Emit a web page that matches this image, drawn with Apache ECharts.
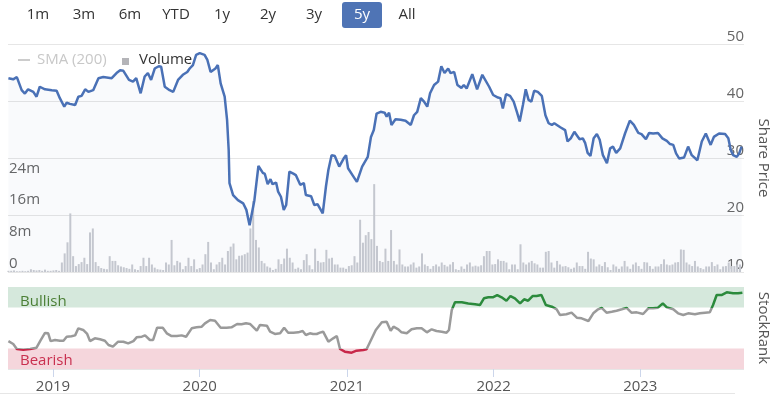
<!DOCTYPE html>
<html>
<head>
<meta charset="utf-8">
<script src="https://cdn.jsdelivr.net/npm/echarts@6/dist/echarts.min.js"></script>
<style>
html,body{margin:0;padding:0;background:#fff;}
#chart{width:771px;height:394px;}
</style>
</head>
<body>
<div id="chart"></div>
<script>
// ---------------- DATA ----------------
const rangeButtons = ['1m','3m','6m','YTD','1y','2y','3y','5y','All'];
const activeRange = '5y';

const priceDates = [
'2018-09-12','2018-09-24','2018-10-03','2018-10-15','2018-10-23','2018-10-31','2018-11-13','2018-11-21','2018-11-29','2018-12-12','2018-12-29',
'2019-01-10','2019-01-18','2019-01-29','2019-02-04','2019-02-12','2019-02-25','2019-03-05','2019-03-13','2019-03-22','2019-03-30','2019-04-11','2019-04-24',
'2019-05-06','2019-05-27','2019-06-08','2019-06-17','2019-06-25','2019-07-09','2019-07-19','2019-07-27','2019-08-07','2019-08-17','2019-08-25',
'2019-09-02','2019-09-11','2019-09-21','2019-09-27','2019-10-06','2019-10-18','2019-10-27','2019-11-08','2019-11-20','2019-12-01','2019-12-07','2019-12-15','2019-12-23',
'2020-01-01','2020-01-13','2020-01-20','2020-01-28','2020-02-09','2020-02-15','2020-02-22','2020-03-03','2020-03-09','2020-03-13','2020-03-15','2020-03-24',
'2020-04-05','2020-04-18','2020-04-26','2020-05-04','2020-05-16','2020-05-26','2020-06-06','2020-06-11','2020-06-18','2020-06-25','2020-06-30',
'2020-07-09','2020-07-14','2020-07-21','2020-07-28','2020-08-03','2020-08-11','2020-08-22','2020-08-27','2020-09-07','2020-09-16','2020-09-21',
'2020-10-04','2020-10-12','2020-10-20','2020-11-02','2020-11-10','2020-11-16','2020-11-24','2020-12-02','2020-12-13','2020-12-24','2020-12-30',
'2021-01-04','2021-01-15','2021-01-26','2021-02-08','2021-02-22','2021-03-02','2021-03-09','2021-03-16','2021-03-26','2021-04-05','2021-04-10','2021-04-16','2021-04-22',
'2021-05-02','2021-05-15','2021-05-27','2021-06-09','2021-06-17','2021-06-25','2021-07-04','2021-07-12','2021-07-20','2021-07-27','2021-08-06','2021-08-16','2021-08-24',
'2021-09-01','2021-09-10','2021-09-16','2021-09-25','2021-10-03','2021-10-13','2021-10-19','2021-10-26','2021-11-09','2021-11-21','2021-12-04','2021-12-21','2021-12-31',
'2022-01-12','2022-01-18','2022-01-24','2022-02-01','2022-02-11','2022-02-20','2022-02-28','2022-03-07','2022-03-15','2022-03-22','2022-03-29',
'2022-04-05','2022-04-12','2022-04-21','2022-05-01','2022-05-10','2022-05-18','2022-05-26','2022-06-01','2022-06-16','2022-06-28',
'2022-07-04','2022-07-12','2022-07-21','2022-07-27','2022-08-03','2022-08-11','2022-08-17','2022-08-23','2022-08-30','2022-09-07','2022-09-15','2022-09-22','2022-09-30',
'2022-10-10','2022-10-18','2022-10-25','2022-11-02','2022-11-12','2022-11-24','2022-12-06','2022-12-16','2022-12-27',
'2023-01-04','2023-01-15','2023-01-23','2023-02-02','2023-02-14','2023-02-25','2023-03-08','2023-03-16','2023-03-24','2023-03-31',
'2023-04-08','2023-04-20','2023-04-30','2023-05-09','2023-05-23','2023-06-03','2023-06-13','2023-06-25','2023-07-03','2023-07-16','2023-07-31',
'2023-08-08','2023-08-14','2023-08-20','2023-08-29','2023-09-04','2023-09-10'
];
const priceValues = [
44.0,43.8,44.2,41.9,41.3,42.05,41.6,40.75,42.5,42.05,41.9,
41.8,40.5,39.0,39.7,39.5,39.3,40.75,40.9,42.05,41.6,41.9,44.0,
44.2,44.0,44.9,45.4,45.3,43.7,43.4,44.0,41.35,44.3,44.9,
43.7,45.7,46.1,46.0,42.5,41.9,41.6,43.7,44.6,45.1,45.7,46.3,48.1,
48.4,48.1,47.2,45.1,45.7,46.3,43.1,40.75,36.7,31.4,25.6,23.5,
22.6,22.05,20.9,18.2,22.6,28.6,27.4,27.2,25.4,26.3,25.4,
25.7,24.1,23.2,20.9,21.75,27.6,27.2,27.0,25.3,25.6,23.5,
23.3,21.75,21.9,20.3,25.0,27.9,30.5,30.35,28.5,29.9,30.5,
28.2,27.0,25.8,28.5,30.2,33.7,34.9,37.8,38.1,37.95,37.25,37.95,35.8,
36.8,36.7,36.55,35.8,37.5,38.1,40.5,39.9,39.0,41.35,42.8,43.4,46.1,
44.9,45.7,44.9,45.1,42.8,42.3,42.8,42.2,44.7,42.05,44.6,42.5,41.05,
40.6,40.5,38.7,41.2,40.9,39.9,38.1,36.4,39.3,42.05,40.2,
39.9,41.8,41.6,40.9,37.5,36.1,35.8,36.1,35.4,34.9,
32.9,33.45,34.6,34.0,33.3,33.45,32.6,30.9,30.35,33.45,34.2,33.2,30.5,
29.1,31.7,32.0,30.9,31.7,34.3,36.55,35.8,34.4,
34.2,33.3,34.4,34.3,34.4,33.45,33.0,32.45,32.3,30.8,
29.9,30.1,32.0,30.5,29.6,32.9,34.3,32.3,33.7,34.3,34.2,
33.45,31.4,30.5,30.2,30.8,32.0
];

// Weekly volume (millions of shares), first week starting 2018-09-12
const volumeStart = '2018-09-12';
const volumeValues = [
0.3,0.3,0.4,0.2,0.2,0.3,0.2,0.3,0.7,0.5,0.4,0.5,0.3,0.6,0.3,0.3,0.4,0.5,0.3,2.4,
4.7,7.5,14.8,4.0,1.5,2.0,2.5,3.6,2.0,10.0,11.0,2.5,1.5,1.0,0.8,0.7,4.0,2.8,2.8,1.7,
1.4,1.2,1.0,0.8,1.9,0.7,0.5,1.5,3.6,1.5,3.6,1.9,1.1,0.7,0.6,0.5,2.4,1.9,8.1,1.7,
2.8,2.4,0.7,1.5,3.6,1.5,3.2,0.7,1.0,1.9,4.5,7.6,2.4,0.7,1.9,2.5,3.6,1.9,5.3,6.4,
7.2,3.2,4.1,4.2,4.5,4.9,11.0,18.0,8.1,6.2,2.8,2.2,1.4,1.1,0.5,0.8,3.2,2.0,3.4,5.9,
3.6,2.4,0.8,1.1,0.7,3.0,4.5,1.7,0.7,5.9,2.8,2.4,2.5,5.6,3.4,3.6,1.9,1.9,1.1,1.1,
0.8,1.5,1.7,4.0,2.4,13.2,7.4,9.3,10.1,8.3,22.2,6.6,2.8,2.5,5.9,2.8,10.6,2.8,1.9,5.7,
1.9,1.4,1.4,1.9,2.4,1.1,1.4,4.7,1.9,1.5,0.8,1.5,1.9,1.4,2.4,1.8,1.4,1.9,2.5,0.7,
0.5,1.4,0.8,1.9,2.4,1.4,1.6,1.4,1.7,4.0,5.3,5.3,1.9,2.0,3.2,2.8,2.8,2.4,0.7,1.9,
1.9,0.7,7.0,2.4,1.9,2.4,2.8,2.2,1.9,1.1,1.1,5.1,5.3,2.4,1.1,2.8,1.9,1.4,1.5,1.2,
0.8,1.1,2.4,1.5,1.5,0.8,5.1,3.4,3.2,1.4,1.9,1.5,2.5,1.2,0.5,1.9,1.4,0.8,1.4,2.8,
1.4,0.8,1.9,2.4,1.5,0.8,2.5,2.4,1.5,0.8,1.4,1.4,2.0,3.2,1.9,1.7,1.9,2.4,2.5,5.7,
5.6,2.4,1.9,1.5,2.8,1.4,1.0,0.7,1.4,1.4,2.5,1.5,1.9,0.7,1.4,1.5,2.4,1.5,1.5,1.9,
1.9
];

const rankDates = [
'2018-09-12','2018-09-24','2018-10-03','2018-10-19','2018-11-05','2018-11-21','2018-12-01','2018-12-12','2018-12-20','2018-12-26',
'2019-01-06','2019-01-18','2019-01-27','2019-02-04','2019-02-16','2019-02-25','2019-03-05','2019-03-17','2019-03-27','2019-04-03','2019-04-15','2019-04-28',
'2019-05-10','2019-05-19','2019-05-30','2019-06-12','2019-06-25','2019-07-07','2019-07-20','2019-07-28','2019-08-10','2019-08-18','2019-08-30',
'2019-09-07','2019-09-17','2019-10-01','2019-10-11','2019-10-23','2019-11-05','2019-11-17','2019-11-28','2019-12-12','2019-12-24',
'2020-01-06','2020-01-14','2020-01-27','2020-02-08','2020-02-22','2020-03-08','2020-03-20','2020-04-03','2020-04-14','2020-04-25','2020-05-05','2020-05-22','2020-05-30',
'2020-06-16','2020-06-24','2020-07-06','2020-07-19','2020-07-29','2020-08-08','2020-08-21','2020-09-02','2020-09-13','2020-09-21','2020-10-01','2020-10-09','2020-10-18','2020-10-26',
'2020-11-03','2020-11-16','2020-11-28','2020-12-07','2020-12-15','2020-12-27',
'2021-01-13','2021-01-25','2021-02-11','2021-02-19','2021-02-28','2021-03-14','2021-03-29','2021-04-10','2021-04-20','2021-04-27','2021-05-09','2021-05-17','2021-05-30',
'2021-06-11','2021-06-24','2021-07-06','2021-07-19','2021-07-31','2021-08-12','2021-08-25','2021-09-06','2021-09-12','2021-09-19','2021-09-27','2021-10-14','2021-10-30',
'2021-11-16','2021-11-28','2021-12-08','2021-12-19','2021-12-30',
'2022-01-10','2022-01-21','2022-02-02','2022-02-12','2022-02-23','2022-03-08','2022-03-18','2022-03-28','2022-04-08','2022-04-18','2022-04-30',
'2022-05-11','2022-05-26','2022-06-07','2022-06-15','2022-07-01','2022-07-14','2022-07-27','2022-08-08','2022-08-25','2022-09-06','2022-09-18','2022-09-27',
'2022-10-09','2022-10-22','2022-11-03','2022-11-16','2022-11-28','2022-12-10','2022-12-23',
'2023-01-08','2023-01-21','2023-02-02','2023-02-14','2023-02-26','2023-03-08','2023-03-24','2023-04-05','2023-04-18','2023-04-30','2023-05-17','2023-05-29',
'2023-06-11','2023-06-23','2023-07-01','2023-07-10','2023-07-22','2023-08-04','2023-08-20','2023-09-01','2023-09-12'
];
const rankValues = [
34,30.5,24.4,23.5,24.4,26,35,44,43.5,34,
35.4,34.5,34.5,39.4,40,41,49.6,47.6,42.7,34,37.4,36.2,
34.5,29.3,27.2,33.3,33.3,31.3,34,38.6,39.4,41,35.4,
35.4,50.4,50.4,43.5,40.2,40.2,41,39.4,49.6,50.8,
51.6,55.7,59.8,58.9,50.4,50.4,50.8,54.9,54.5,55.7,54.9,46.7,53.7,
52.8,45.5,42.7,43.5,50.4,44.3,44.3,44.7,46.3,41.5,43.5,42.7,42.7,44.3,
45.5,33.3,37.4,40.2,24.4,21.1,
19.9,22.3,23.2,24,33.3,47.6,56.9,57.7,46.7,51.6,48.4,44.7,43.5,
48.4,49.6,49.6,44.7,48.4,46.3,45.5,44.3,47.6,72,81.3,81.3,80,
78.9,78,86.2,87.4,87.4,
90.2,87.4,83.3,89,86.2,80,85,83.3,89,89,90.2,
78,76,72.8,65.9,66.7,68.7,62.6,61.8,58.5,67.9,72.8,74.5,
68.7,69.9,71.1,72.8,74.5,68.7,69.1,
67.1,74,74,74.8,80,75.2,72.8,67.9,65.9,67.9,66.7,67.9,
68.7,69.1,78,90.2,90.2,93.5,92.3,92.3,93
];

const yearTicks = ['2019-01-01','2020-01-01','2021-01-01','2022-01-01','2023-01-01'];
const xRange = ['2018-09-11','2023-09-16'];
const bands = [
  {name:'Bullish', from:75, to:100},
  {name:'Bearish', from:0, to:25}
];

// ---------------- HELPERS ----------------
function ts(s){ const p = s.split('-'); return Date.UTC(+p[0], +p[1]-1, +p[2]); }
const DAY = 86400000;
const priceData = priceDates.map((d,i)=>[ts(d), priceValues[i]]);
const volumeData = volumeValues.map((v,i)=>[ts(volumeStart) + i*7*DAY, v]);
const rankData = rankDates.map((d,i)=>[ts(d), rankValues[i]]);
const FONT = 'Open Sans';

// ---------------- CHART ----------------
const chart = echarts.init(document.getElementById('chart'), null, {renderer:'canvas'});

const btnCenters = [38,84,130,176,222,268,314,362,407];
const graphics = [];
rangeButtons.forEach((b,i)=>{
  if (b === activeRange) {
    graphics.push({type:'rect', shape:{x:btnCenters[i]-20, y:2, width:40, height:26, r:3}, style:{fill:'#4f74b5'}});
  }
  graphics.push({type:'text', x: btnCenters[i], y: 15, style:{text:b, fill: b===activeRange?'#fff':'#333', font:'15px "Open Sans"', textAlign:'center', textVerticalAlign:'middle'}});
});
graphics.push({type:'line', shape:{x1:18,y1:60,x2:30,y2:60}, style:{stroke:'#cccccc', lineWidth:2}});
graphics.push({type:'text', x:37, y:60, style:{text:'SMA (200)', fill:'#c8c8c8', font:'15px "Open Sans"', textVerticalAlign:'middle'}});
graphics.push({type:'rect', shape:{x:122,y:58,width:7,height:7}, style:{fill:'#b4b4b8'}});
graphics.push({type:'text', x:139, y:60, style:{text:'Volume', fill:'#333', font:'15px "Open Sans"', textVerticalAlign:'middle'}});
graphics.push({type:'line', shape:{x1:0,y1:393.5,x2:735,y2:393.5}, style:{stroke:'#e6e6e6', lineWidth:1}});

const xMin = ts(xRange[0]), xMax = ts(xRange[1]);
const yearTs = yearTicks.map(ts);

const option = {
  animation:false,
  backgroundColor:'#fff',
  textStyle:{fontFamily:FONT},
  graphic: graphics,
  grid:[
    {left:8, right:27, top:44, height:228, containLabel:false, outerBoundsMode:'none'},
    {left:8, right:27, top:287, height:82, containLabel:false, outerBoundsMode:'none'}
  ],
  xAxis:[
    {type:'value', gridIndex:0, min:xMin, max:xMax,
     axisLine:{show:false}, axisTick:{show:false}, axisLabel:{show:false}, splitLine:{show:false}},
    {type:'value', gridIndex:1, min:xMin, max:xMax,
     axisLine:{show:false},
     axisTick:{show:true, length:8, customValues: yearTs, lineStyle:{color:'#ccd6eb'}},
     axisLabel:{customValues: yearTs, formatter:v=>String(new Date(v).getUTCFullYear()),
       color:'#555', fontSize:15, fontFamily:FONT, margin:10},
     splitLine:{show:false}}
  ],
  yAxis:[
    {type:'value', gridIndex:0, position:'right', min:10, max:50, interval:10,
     axisLine:{show:false}, axisTick:{show:false},
     axisLabel:{inside:true, margin:0, verticalAlign:'bottom', color:'#666', fontSize:15, fontFamily:FONT, padding:[0,0,0,0]},
     splitLine:{lineStyle:{color:'#e6e6e6'}},
     name:'Share Price', nameLocation:'middle', nameRotate:-90, nameGap:19, nameMoveOverlap:false,
     nameTextStyle:{color:'#555', fontSize:15, fontFamily:FONT, align:'center', verticalAlign:'middle'}},
    {type:'value', gridIndex:0, position:'left', min:0, max:57.6, interval:8,
     axisLine:{show:false}, axisTick:{show:false}, splitLine:{show:false},
     axisLabel:{inside:true, margin:1, verticalAlign:'bottom', color:'#666', fontSize:15, fontFamily:FONT, padding:[0,0,1,0],
       formatter:v=> v===0 ? '0' : (v<=24 ? v+'m' : '')}},
    {type:'value', gridIndex:1, position:'right', min:0, max:100, interval:100,
     axisLine:{show:false}, axisTick:{show:false},
     splitLine:{lineStyle:{color:'#e6e6e6'}},
     axisLabel:{inside:true, margin:0, verticalAlign:'bottom', color:'#666', fontSize:15, fontFamily:FONT, padding:[0,0,0,0],
       formatter:v=> v===0 ? '0' : ''},
     name:'StockRank', nameLocation:'middle', nameRotate:-90, nameGap:19, nameMoveOverlap:false,
     nameTextStyle:{color:'#555', fontSize:15, fontFamily:FONT, align:'center', verticalAlign:'middle'}}
  ],
  visualMap:{type:'piecewise', show:false, seriesIndex:2, dimension:1,
    pieces:[{lt:25, color:'#c8284a'},{gte:25, lt:75, color:'#9a9a9a'},{gte:75, color:'#2b8a3c'}]},
  series:[
    {name:'Share Price', type:'line', xAxisIndex:0, yAxisIndex:0, data:priceData, showSymbol:false, symbol:'none',
     lineStyle:{color:'#4a71b6', width:2.5}, itemStyle:{color:'#4a71b6'},
     areaStyle:{color:'rgba(74,113,182,0.05)'}, z:4},
    {name:'Volume', type:'bar', xAxisIndex:0, yAxisIndex:1, data:volumeData, barWidth:2,
     itemStyle:{color:'#c9cbd1'}, z:3},
    {name:'StockRank', type:'line', xAxisIndex:1, yAxisIndex:2, data:rankData, showSymbol:false, symbol:'none',
     lineStyle:{width:2.5}, z:4,
     markArea:{silent:true, data: bands.map(b=>[
       {yAxis:b.from, name:b.name,
        itemStyle:{color: b.name==='Bullish' ? '#d5e8dc' : '#f5d6dc'},
        label:{show:true, position:'insideLeft', distance:0, offset:[12, b.name==='Bullish'?4:2],
          color: b.name==='Bullish' ? '#4b7f35' : '#c9304f', fontSize:15, fontFamily:FONT}},
       {yAxis:b.to}
     ])}}
  ]
};
chart.setOption(option);
</script>
</body>
</html>
